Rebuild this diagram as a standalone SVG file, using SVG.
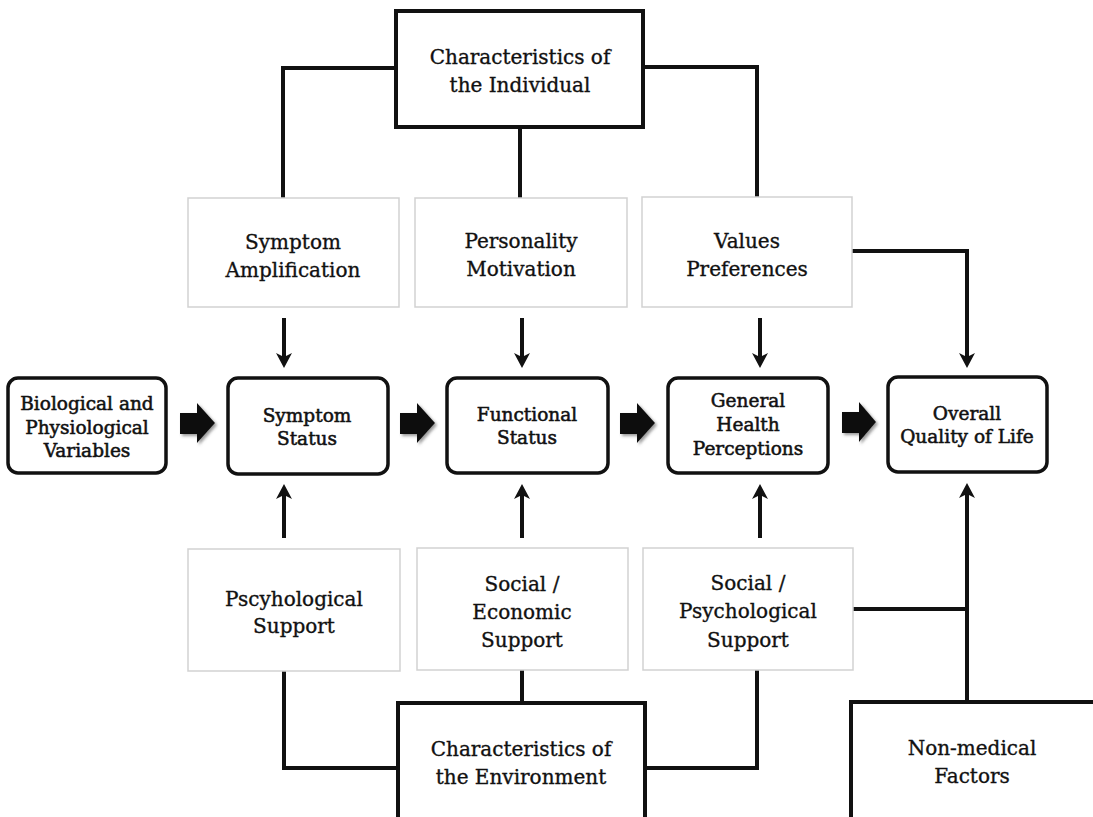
<svg xmlns="http://www.w3.org/2000/svg" width="1093" height="817" viewBox="0 0 1093 817">
<defs>
<style>
text{font-family:"DejaVu Serif","Liberation Serif",serif;fill:#111;stroke:#111;stroke-width:0.35;text-anchor:middle}
.big{font-size:20px}
.sm{font-size:18.5px;stroke-width:0.55}
.main{fill:#fff;stroke:#111;stroke-width:4}
.round{fill:#fff;stroke:#111;stroke-width:3.5}
.light{fill:#fff;stroke:#d2d2d2;stroke-width:1.5}
.con{fill:none;stroke:#111;stroke-width:4}
.fat{fill:#111}
</style>
<marker id="ah" markerUnits="userSpaceOnUse" markerWidth="20" markerHeight="20" viewBox="-2 -10 20 20" refX="4" refY="0" orient="auto">
<path d="M0,-8 L15,0 L0,8 L4,0 Z" fill="#111"/>
</marker>
<filter id="sh" x="-30%" y="-30%" width="160%" height="160%">
<feDropShadow dx="2" dy="2" stdDeviation="1.5" flood-color="#555" flood-opacity="0.6"/>
</filter>
</defs>
<rect width="1093" height="817" fill="#fff"/>

<g id="connectors">
<path class="con" d="M396,68 H283 V199"/>
<path class="con" d="M520,127 V199"/>
<path class="con" d="M643,67 H757 V197"/>
<path class="con" d="M852,251 H967 V357" marker-end="url(#ah)"/>
<path class="con" d="M284,318 V357" marker-end="url(#ah)"/>
<path class="con" d="M522,318 V357" marker-end="url(#ah)"/>
<path class="con" d="M760,318 V357" marker-end="url(#ah)"/>
<path class="con" d="M284,538 V495" marker-end="url(#ah)"/>
<path class="con" d="M522,538 V495" marker-end="url(#ah)"/>
<path class="con" d="M760,538 V495" marker-end="url(#ah)"/>
<path class="con" d="M967,702 V494" marker-end="url(#ah)"/>
<path class="con" d="M853,609 H967"/>
<path class="con" d="M284,671 V768 H398"/>
<path class="con" d="M522,670 V703"/>
<path class="con" d="M757,670 V768 H645"/>
<g filter="url(#sh)">
<polygon class="fat" points="180,413 197,413 197,403 215,423 197,443 197,434 180,434"/>
<polygon class="fat" points="400,413 417,413 417,403 435,423 417,443 417,434 400,434"/>
<polygon class="fat" points="620,413 637,413 637,403 655,423 637,443 637,434 620,434"/>
<polygon class="fat" points="842,412 859,412 859,402 876,422 859,442 859,433 842,433"/>
</g>
</g>

<g id="char-individual">
<rect class="main" x="396" y="11" width="247" height="116"/>
<text class="big" x="520" y="64">Characteristics of</text>
<text class="big" x="520" y="92">the Individual</text>
</g>

<g id="symptom-amplification">
<rect class="light" x="188" y="198" width="211" height="109"/>
<text class="big" x="293" y="249">Symptom</text>
<text class="big" x="293" y="277">Amplification</text>
</g>

<g id="personality-motivation">
<rect class="light" x="415" y="198" width="212" height="109"/>
<text class="big" x="521" y="248">Personality</text>
<text class="big" x="521" y="276">Motivation</text>
</g>

<g id="values-preferences">
<rect class="light" x="642" y="197" width="210" height="110"/>
<text class="big" x="747" y="248">Values</text>
<text class="big" x="747" y="276">Preferences</text>
</g>

<g id="biological">
<rect class="round" x="8" y="378" width="158" height="95" rx="10"/>
<text class="sm" x="87" y="410">Biological and</text>
<text class="sm" x="87" y="434">Physiological</text>
<text class="sm" x="87" y="457">Variables</text>
</g>

<g id="symptom-status">
<rect class="round" x="228" y="378" width="160" height="96" rx="10"/>
<text class="sm" x="307" y="422">Symptom</text>
<text class="sm" x="307" y="445">Status</text>
</g>

<g id="functional-status">
<rect class="round" x="447" y="378" width="161" height="95" rx="10"/>
<text class="sm" x="527" y="421">Functional</text>
<text class="sm" x="527" y="444">Status</text>
</g>

<g id="general-health">
<rect class="round" x="668" y="378" width="160" height="95" rx="10"/>
<text class="sm" x="748" y="407">General</text>
<text class="sm" x="748" y="431">Health</text>
<text class="sm" x="748" y="455">Perceptions</text>
</g>

<g id="overall-qol">
<rect class="round" x="888" y="377" width="159" height="95" rx="10"/>
<text class="sm" x="967" y="420">Overall</text>
<text class="sm" x="967" y="443">Quality of Life</text>
</g>

<g id="psychological-support">
<rect class="light" x="188" y="549" width="212" height="122"/>
<text class="big" x="294" y="606">Pscyhological</text>
<text class="big" x="294" y="633">Support</text>
</g>

<g id="social-economic">
<rect class="light" x="417" y="548" width="211" height="122"/>
<text class="big" x="522" y="591">Social /</text>
<text class="big" x="522" y="619">Economic</text>
<text class="big" x="522" y="647">Support</text>
</g>

<g id="social-psychological">
<rect class="light" x="643" y="548" width="210" height="122"/>
<text class="big" x="748" y="590">Social /</text>
<text class="big" x="748" y="618">Psychological</text>
<text class="big" x="748" y="647">Support</text>
</g>

<g id="char-environment">
<rect class="main" x="398" y="703" width="247" height="130"/>
<text class="big" x="521" y="756">Characteristics of</text>
<text class="big" x="521" y="784">the Environment</text>
</g>

<g id="non-medical">
<rect class="main" x="851" y="702" width="250" height="130"/>
<text class="big" x="972" y="755">Non-medical</text>
<text class="big" x="972" y="783">Factors</text>
</g>
</svg>
